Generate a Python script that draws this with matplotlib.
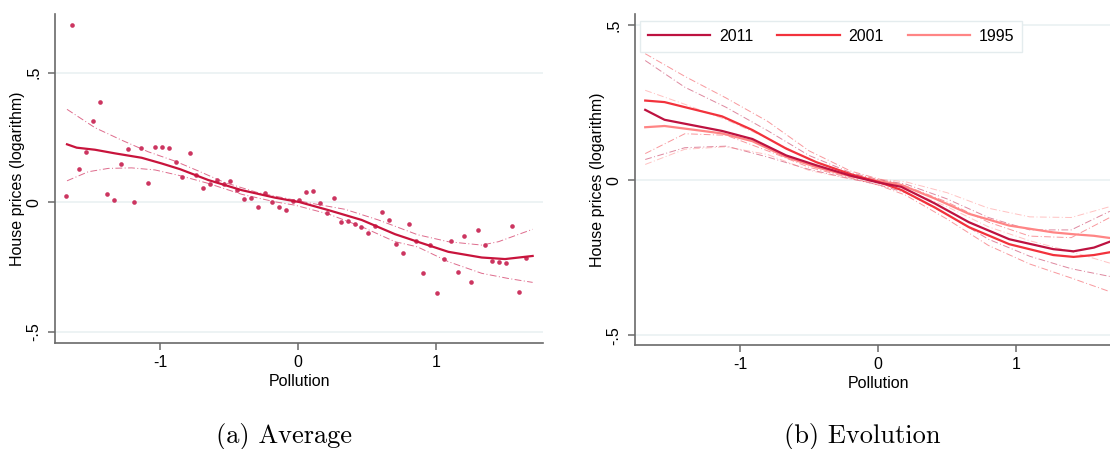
import numpy as np
import matplotlib
matplotlib.use("Agg")
import matplotlib.pyplot as plt

plt.rcParams['font.family'] = ['Liberation Sans', 'DejaVu Sans']

# (a) binned averages and local polynomial fit
avg_x = [-1.683, -1.636, -1.587, -1.536, -1.486, -1.435, -1.386, -1.336, -1.285, -1.234,
         -1.188, -1.135, -1.085, -1.036, -0.986, -0.935, -0.886, -0.838, -0.785, -0.737,
         -0.688, -0.638, -0.589, -0.538, -0.490, -0.440, -0.389, -0.338, -0.290, -0.239,
         -0.190, -0.140, -0.089, -0.038, 0.010, 0.060, 0.109, 0.159, 0.208, 0.261,
         0.312, 0.360, 0.411, 0.459, 0.507, 0.558, 0.609, 0.659, 0.708, 0.758,
         0.807, 0.857, 0.906, 0.957, 1.007, 1.058, 1.106, 1.157, 1.205, 1.256,
         1.307, 1.357, 1.406, 1.457, 1.505, 1.553, 1.604, 1.654]
avg_y = [0.023, 0.683, 0.129, 0.194, 0.313, 0.386, 0.032, 0.009, 0.147, 0.206,
         -0.001, 0.208, 0.072, 0.214, 0.212, 0.207, 0.156, 0.098, 0.190, 0.106,
         0.054, 0.069, 0.086, 0.069, 0.082, 0.046, 0.013, 0.017, -0.019, 0.034,
         -0.001, -0.019, -0.030, 0.006, 0.007, 0.039, 0.044, -0.004, -0.041, 0.017,
         -0.077, -0.073, -0.085, -0.095, -0.121, -0.093, -0.039, -0.068, -0.163, -0.198,
         -0.084, -0.150, -0.274, -0.166, -0.350, -0.220, -0.149, -0.269, -0.130, -0.309,
         -0.108, -0.166, -0.228, -0.233, -0.234, -0.093, -0.346, -0.217]

fit_x = [-1.674, -1.604, -1.471, -1.326, -1.133, -0.988, -0.855, -0.65, -0.408, -0.167,
         0.01, 0.22, 0.461, 0.703, 0.866, 1.089, 1.331, 1.5, 1.70]
fit_y = [0.223, 0.21, 0.202, 0.188, 0.171, 0.149, 0.127, 0.085, 0.046, 0.017,
         0.0, -0.031, -0.069, -0.124, -0.153, -0.192, -0.214, -0.220, -0.208]

hi_x = [-1.674, -1.471, -1.278, -1.085, -0.891, -0.722, -0.529, -0.288, -0.046, 0.099,
        0.341, 0.582, 0.866, 1.089, 1.331, 1.452, 1.70]
hi_y = [0.358, 0.287, 0.239, 0.194, 0.158, 0.12, 0.075, 0.036, 0.010, -0.005,
        -0.028, -0.069, -0.126, -0.153, -0.166, -0.153, -0.105]
lo_x = [-1.674, -1.52, -1.375, -1.205, -1.036, -0.855, -0.65, -0.408, -0.167, -0.022,
        0.22, 0.461, 0.703, 0.866, 1.089, 1.331, 1.524, 1.70]
lo_y = [0.082, 0.117, 0.130, 0.132, 0.124, 0.102, 0.072, 0.030, 0.001, -0.012,
        -0.046, -0.095, -0.153, -0.173, -0.230, -0.275, -0.295, -0.310]

# (b) fits by census year
years = ['2011', '2001', '1995']
year_x = [-1.687, -1.547, -1.130, -0.910, -0.665, -0.445, -0.2, 0.0, 0.168, 0.413,
          0.658, 0.951, 1.27, 1.417, 1.565, 1.68]
fit_2011 = [0.227, 0.195, 0.159, 0.133, 0.080, 0.048, 0.015, -0.007, -0.021, -0.075,
            -0.135, -0.19, -0.222, -0.229, -0.217, -0.198]
fit_2001 = [0.257, 0.252, 0.206, 0.162, 0.102, 0.058, 0.020, -0.005, -0.031, -0.088,
            -0.151, -0.206, -0.241, -0.247, -0.241, -0.232]
fit_1995 = [0.171, 0.175, 0.151, 0.126, 0.075, 0.042, 0.013, -0.002, -0.015, -0.059,
            -0.108, -0.146, -0.168, -0.174, -0.179, -0.186]

ci_x = [-1.687, -1.4, -1.1, -0.8, -0.5, -0.2, 0.0, 0.2, 0.5, 0.8, 1.1, 1.4, 1.68]
hi_2011 = [0.386, 0.30, 0.235, 0.16, 0.08, 0.025, 0.002, -0.012, -0.06, -0.12, -0.16, -0.16, -0.10]
lo_2011 = [0.067, 0.105, 0.11, 0.075, 0.035, 0.005, -0.014, -0.04, -0.11, -0.19, -0.245, -0.285, -0.31]
hi_2001 = [0.408, 0.335, 0.265, 0.19, 0.095, 0.03, 0.005, -0.018, -0.07, -0.135, -0.18, -0.185, -0.12]
lo_2001 = [0.086, 0.15, 0.145, 0.095, 0.042, 0.008, -0.015, -0.048, -0.125, -0.21, -0.27, -0.315, -0.359]
hi_1995 = [0.29, 0.245, 0.195, 0.135, 0.068, 0.02, 0.004, -0.005, -0.04, -0.09, -0.118, -0.12, -0.085]
lo_1995 = [0.051, 0.1, 0.108, 0.083, 0.032, 0.004, -0.009, -0.03, -0.085, -0.15, -0.195, -0.23, -0.267]

year_colors = ['#bd1240', '#f2323c', '#ff8585']
dashdot = (0, (7, 2.5, 1, 2.5))

fig = plt.figure(figsize=(11.10, 4.49), dpi=100)


def style_axes(ax, xlim, ylim):
    ax.set_xlim(*xlim)
    ax.set_ylim(*ylim)
    ax.set_xticks([-1, 0, 1])
    ax.set_xticklabels(['-1', '0', '1'])
    ax.set_yticks([-0.5, 0, 0.5])
    ax.set_yticklabels(['-.5', '0', '.5'], rotation=90, va='center')
    for s in ['top', 'right']:
        ax.spines[s].set_visible(False)
    for s in ['left', 'bottom']:
        ax.spines[s].set_color('#6a6a6a')
        ax.spines[s].set_linewidth(1.2)
    ax.tick_params(colors='#6a6a6a', labelcolor='black', length=5, width=1.1,
                   labelsize=11.5)
    ax.tick_params(axis='y', pad=5)
    for y in [-0.5, 0, 0.5]:
        ax.axhline(y, color='#e8f0f1', lw=1.1, zorder=0)
    ax.set_xlabel('Pollution', fontsize=11.5, labelpad=3)
    ax.set_ylabel('House prices (logarithm)', fontsize=11.5, labelpad=1)


ax1 = fig.add_axes([55 / 1110, 1 - 343 / 449, 488 / 1110, 329 / 449])
style_axes(ax1, (-1.761, 1.775), (-0.544, 0.726))
ax1.scatter(avg_x, avg_y, s=11, color='#cc3560', linewidths=0, zorder=3)
ax1.plot(fit_x, fit_y, color='#c8143c', lw=1.6, zorder=4)
ax1.plot(hi_x, hi_y, color='#de6b8c', lw=0.7, ls=dashdot, zorder=2)
ax1.plot(lo_x, lo_y, color='#de6b8c', lw=0.7, ls=dashdot, zorder=2)

ax2 = fig.add_axes([635 / 1110, 1 - 345 / 449, 486 / 1110, 331 / 449])
style_axes(ax2, (-1.761, 1.761), (-0.531, 0.536))
fits = [fit_2011, fit_2001, fit_1995]
his = [hi_2011, hi_2001, hi_1995]
los = [lo_2011, lo_2001, lo_1995]
for name, c, f, hi, lo in zip(years, year_colors, fits, his, los):
    ax2.plot(ci_x, hi, color=c, lw=0.7, ls=dashdot, alpha=0.5, zorder=2)
    ax2.plot(ci_x, lo, color=c, lw=0.7, ls=dashdot, alpha=0.5, zorder=2)
for name, c, f in zip(years[::-1], year_colors[::-1], fits[::-1]):
    ax2.plot(year_x, f, color=c, lw=1.6, zorder=4, label=name)

handles, labels = ax2.get_legend_handles_labels()
leg = ax2.legend(handles[::-1], labels[::-1], loc='upper left', ncol=3,
                 bbox_to_anchor=(0.0103, 0.979), borderaxespad=0, fontsize=11.5,
                 handlelength=3.9, handletextpad=0.55, columnspacing=1.5,
                 borderpad=0.5, fancybox=False, framealpha=1)
leg.get_frame().set_edgecolor('#e4ecee')
leg.get_frame().set_linewidth(1.0)

# captions in Computer Modern
fig.text(284 / 1110, 1 - 436 / 449, '(a) Average', fontsize=19, family='cmr10',
         ha='center', va='center')
fig.text(862 / 1110, 1 - 436 / 449, '(b) Evolution', fontsize=19, family='cmr10',
         ha='center', va='center')

fig.savefig('out.png', dpi=100)
